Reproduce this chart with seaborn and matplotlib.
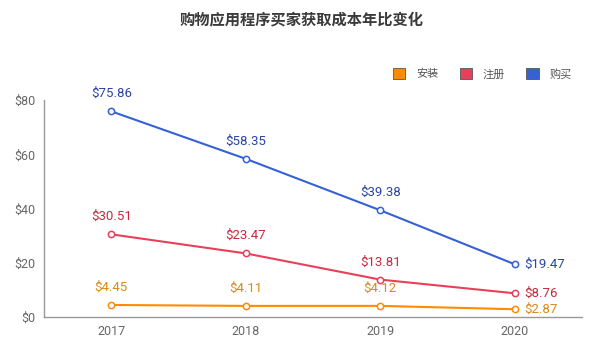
import matplotlib
matplotlib.use("Agg")
import matplotlib.pyplot as plt
import seaborn as sns
import pandas as pd
from matplotlib.patches import Patch

years = ["2017", "2018", "2019", "2020"]
series_names = ["安装", "注册", "购买"]
install = [4.45, 4.11, 4.12, 2.87]
register = [30.51, 23.47, 13.81, 8.76]
purchase = [75.86, 58.35, 39.38, 19.47]
yticks = [0, 20, 40, 60, 80]
title = "购物应用程序买家获取成本年比变化"

line_colors = {"安装": "#FF8C00", "注册": "#E8405A", "购买": "#3561D6"}
text_colors = {"安装": "#D68A1C", "注册": "#C8283C", "购买": "#2A44A6"}

sns.set_theme(style="white")
plt.rcParams['font.family'] = ['Roboto', 'Noto Sans CJK SC', 'DejaVu Sans']

rows = []
for name, vals in zip(series_names, [install, register, purchase]):
    for i, (y, v) in enumerate(zip(years, vals)):
        rows.append({"year": y, "idx": i, "series": name, "value": v})
df = pd.DataFrame(rows)

fig = plt.figure(figsize=(6.03, 3.64), dpi=100)
ax = fig.add_axes([0.073, 0.129, 0.892, 0.596])

sns.lineplot(data=df, x="idx", y="value", hue="series", hue_order=series_names,
             palette=line_colors, marker="o", markersize=4.5, markerfacecolor="white",
             markeredgewidth=1.1, linewidth=1.5, ax=ax, legend=False, sort=False)
for line, name in zip(ax.lines, series_names):
    line.set_markeredgecolor(line_colors[name])

for name, vals in zip(series_names, [install, register, purchase]):
    for i, v in enumerate(vals):
        if i == len(vals) - 1:
            ax.annotate(f"${v:.2f}", (i, v), xytext=(7, 0), textcoords="offset points",
                        ha="left", va="center", fontsize=9.5, color=text_colors[name])
        else:
            ax.annotate(f"${v:.2f}", (i, v), xytext=(0, 8), textcoords="offset points",
                        ha="center", va="bottom", fontsize=9.5, color=text_colors[name])

ax.set_xlim(-0.5, 3.5)
ax.set_ylim(0, 80)
ax.set_xticks(range(len(years)))
ax.set_xticklabels(years)
ax.set_yticks(yticks)
ax.set_yticklabels([f"${t}" for t in yticks])
ax.tick_params(axis="both", labelsize=9, colors="#666666", length=0, pad=6)
ax.set_xlabel("")
ax.set_ylabel("")
for s in ["top", "right"]:
    ax.spines[s].set_visible(False)
for s in ["left", "bottom"]:
    ax.spines[s].set_color("#999999")
    ax.spines[s].set_linewidth(1)

handles = [Patch(facecolor=line_colors[n], edgecolor="#555555", linewidth=0.6) for n in series_names]
fig.legend(handles, series_names, loc="center right", bbox_to_anchor=(0.965, 0.797),
           ncol=3, frameon=False, fontsize=8, handlelength=1.1, handleheight=1.1,
           columnspacing=1.9, handletextpad=1.0, labelcolor="#555555")

fig.text(0.5, 0.945, title, ha="center", va="center", fontsize=11, color="#3a3a3a",
         fontweight="bold")

fig.savefig("out.png", dpi=100)
